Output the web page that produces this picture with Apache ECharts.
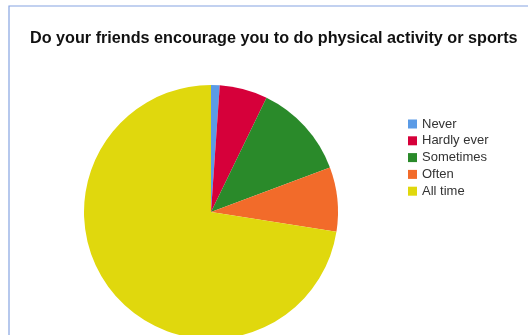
<!DOCTYPE html>
<html>
<head>
<meta charset="utf-8">
<script src="https://cdn.jsdelivr.net/npm/echarts@6/dist/echarts.min.js"></script>
<style>
  html, body { margin: 0; padding: 0; background: #fff; }
  #chart { width: 528px; height: 335px; }
</style>
</head>
<body>
<div id="chart"></div>
<script>
// Survey answers and their shares (%)
const categories = ['Never', 'Hardly ever', 'Sometimes', 'Often', 'All time'];
const shares = [1.1, 6.1, 12.1, 8.2, 72.5];
const colors = ['#5b9be6', '#d6003a', '#2a8a2a', '#f26b2a', '#e0d80d'];

const chart = echarts.init(document.getElementById('chart'), null, { renderer: 'canvas' });

chart.setOption({
  animation: false,
  backgroundColor: '#ffffff',
  title: {
    text: 'Do your friends encourage you to do physical activity or sports',
    left: 30,
    top: 31,
    padding: 0,
    textStyle: {
      fontFamily: 'Liberation Sans, Arial, sans-serif',
      fontSize: 16.2,
      fontWeight: 'bold',
      color: '#111'
    }
  },
  legend: {
    orient: 'vertical',
    left: 408,
    top: 117,
    padding: 0,
    itemWidth: 9,
    itemHeight: 9,
    itemGap: 2.8,
    icon: 'rect',
    selectedMode: false,
    data: categories,
    textStyle: {
      fontFamily: 'Liberation Sans, Arial, sans-serif',
      fontSize: 13,
      lineHeight: 14,
      color: '#333'
    }
  },
  graphic: [{
    type: 'rect',
    shape: { x: 9, y: 6, width: 540, height: 360 },
    style: { fill: 'none', stroke: '#86a4e2', lineWidth: 1.2 },
    silent: true
  }],
  series: [{
    type: 'pie',
    center: [211, 212],
    radius: 127,
    startAngle: 90,
    clockwise: true,
    label: { show: false },
    labelLine: { show: false },
    emphasis: { disabled: true },
    itemStyle: { borderWidth: 0 },
    data: categories.map((name, i) => ({
      name,
      value: shares[i],
      itemStyle: { color: colors[i] }
    }))
  }]
});
</script>
</body>
</html>
